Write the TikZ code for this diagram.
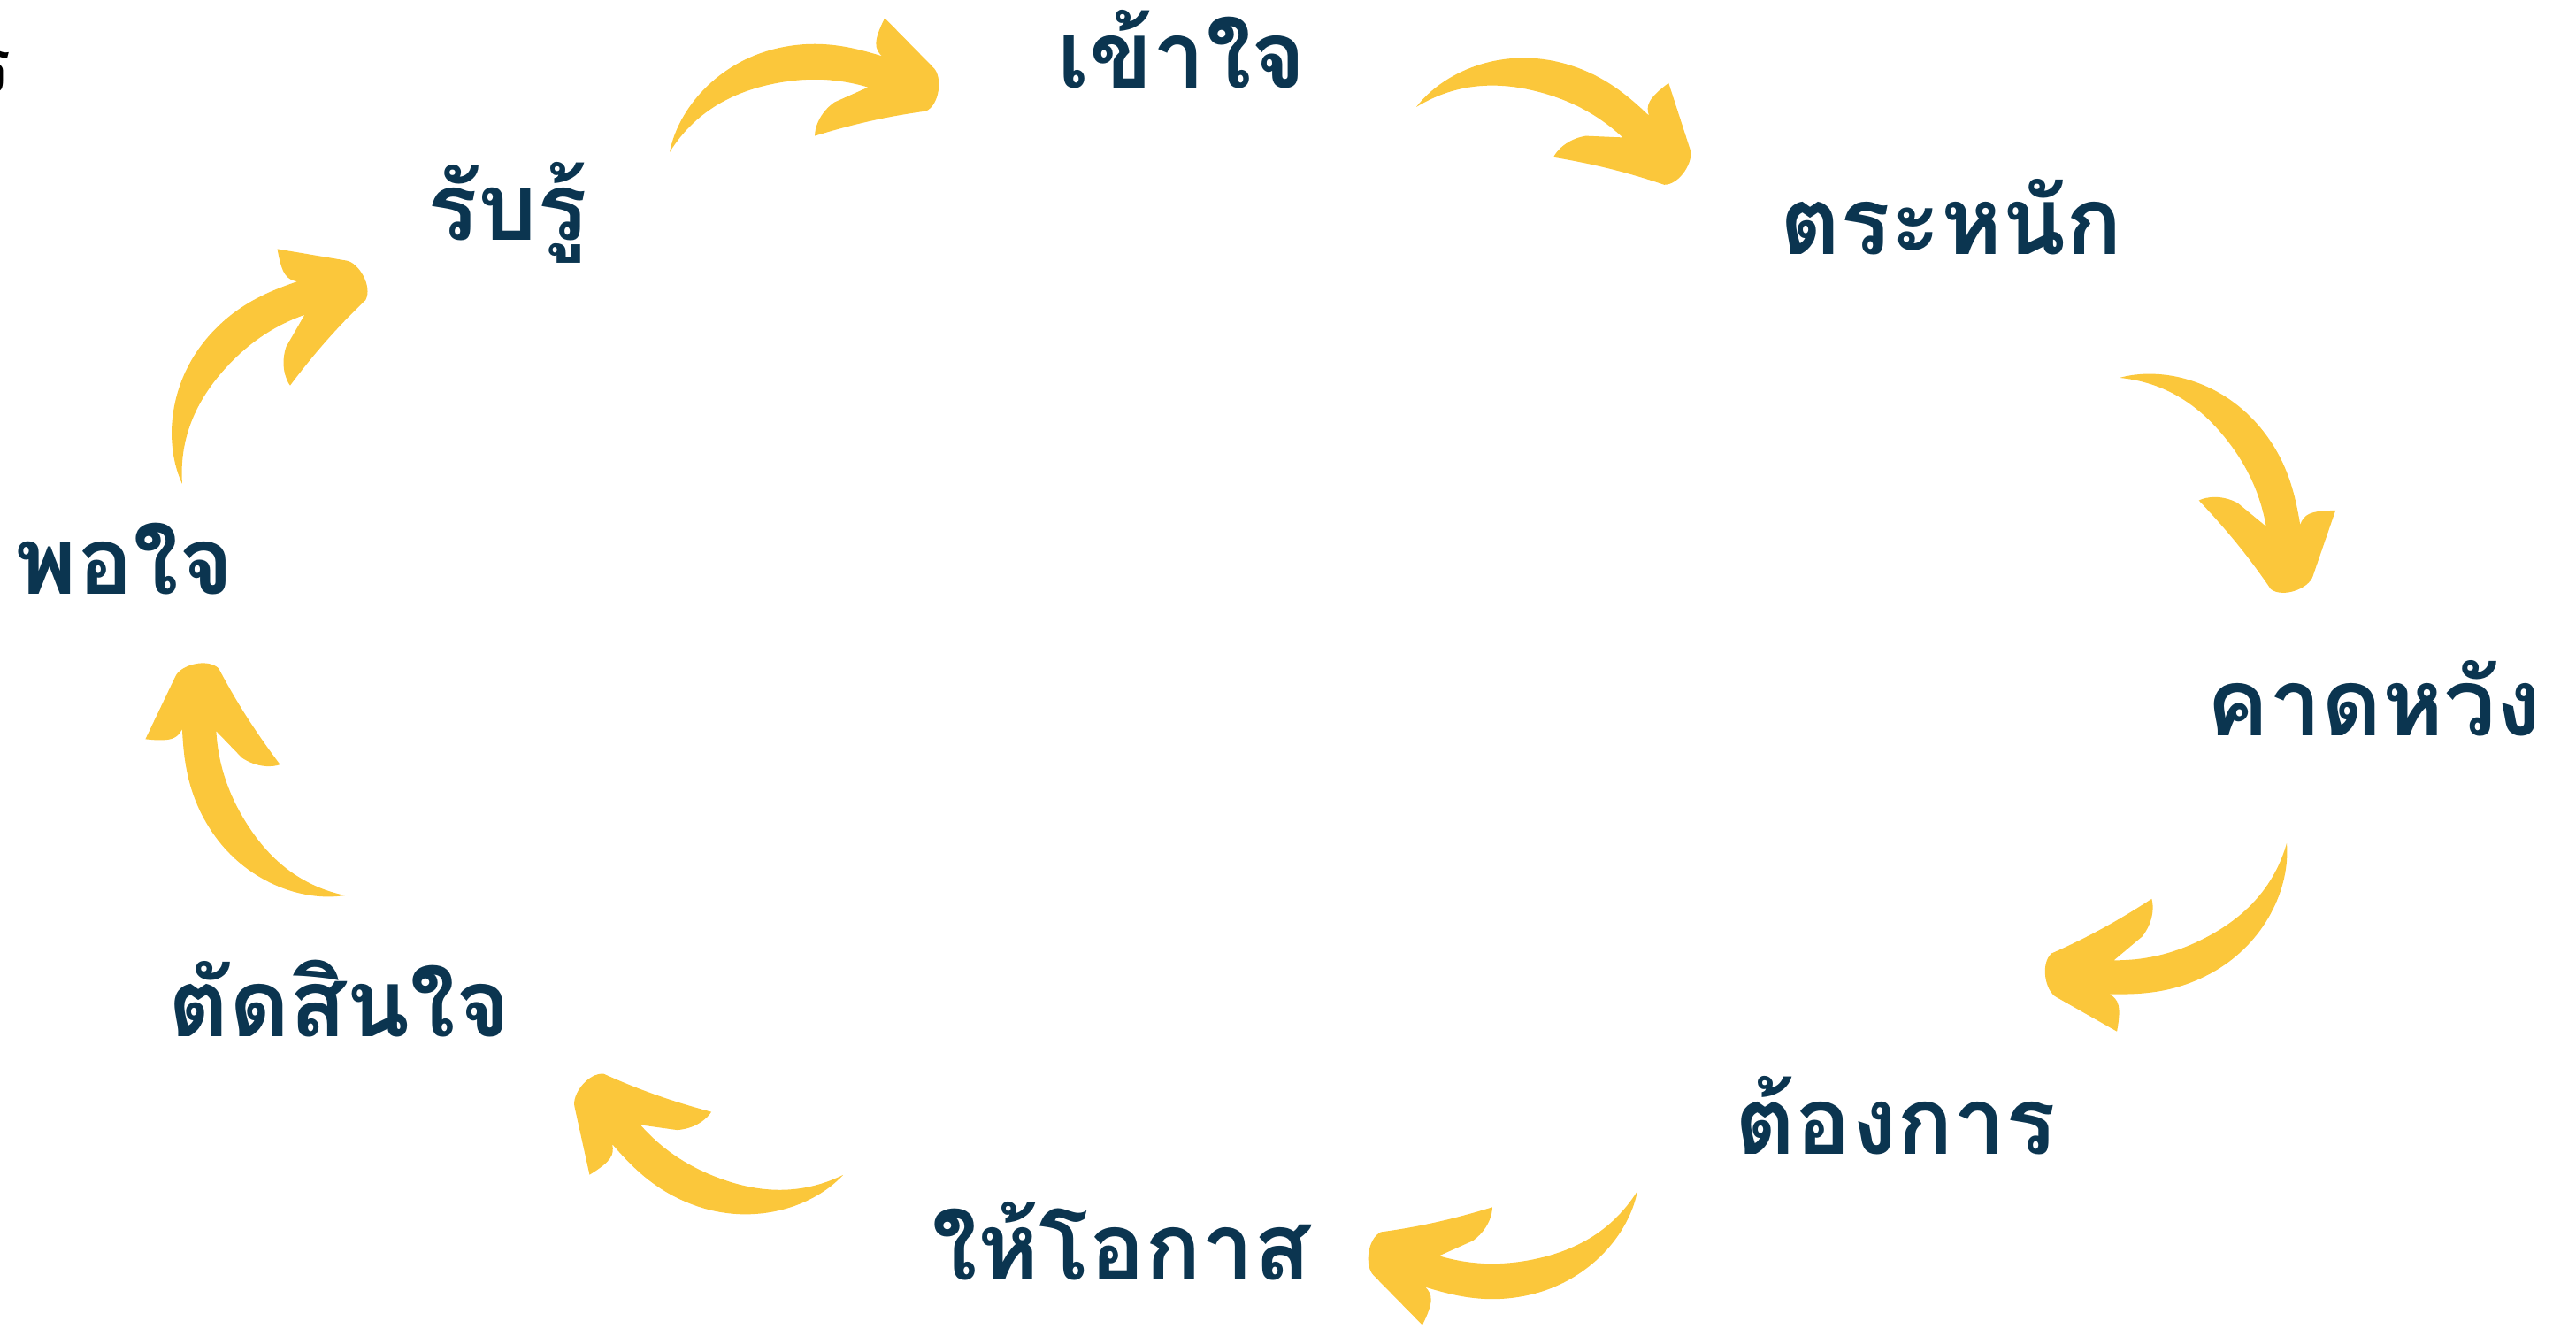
\documentclass[tikz,border=0pt]{standalone}
\usepackage{fontspec}
\newfontfamily\thaifont[Script=Thai]{Loma}
\usepackage{tikz}
\usetikzlibrary{positioning, calc}
\definecolor{testoblu}{HTML}{0B3550}
\definecolor{giallo}{HTML}{FBC73B}

\begin{document}
\begin{tikzpicture}[
        fase/.style={
            text=testoblu,
            font=\thaifont\bfseries\fontsize{30}{36}\selectfont,
            anchor=base,
            inner sep=0pt
        },
        pics/swoosh/.style={code={
            \fill[giallo] (0,0) .. controls (0.2,0.45) and (0.75,0.87) .. (1.45,0.87)
                .. controls (1.95,0.87) and (2.3,0.68) .. (2.58,0.52)
                .. controls (2.52,0.62) and (2.52,0.7) .. (2.71,0.93)
                -- (3.12,0.26) .. controls (3.2,0.14) and (3.1,-0.16) .. (2.93,-0.2)
                .. controls (2.6,-0.17) and (2.2,-0.15) .. (1.64,-0.19)
                .. controls (1.66,-0.1) and (1.75,0.05) .. (1.94,0.13)
                -- (2.35,0.21)
                .. controls (2.05,0.38) and (1.7,0.49) .. (1.25,0.49)
                .. controls (0.7,0.49) and (0.3,0.3) .. (0,0) -- cycle;
        }}
    ]
    \useasboundingbox (0,0) rectangle (29.12,15.02);

    % fasi del ciclo
    \node[fase] (rabru) at (5.74,12.30) {รับรู้};
    \node[fase] (khaochai) at (13.36,14.02) {เข้าใจ};
    \node[fase] (tranak) at (22.06,12.14) {ตระหนัก};
    \node[fase] (khatwang) at (26.84,6.70) {คาดหวัง};
    \node[fase] (tongkan) at (21.43,1.97) {ต้องการ};
    \node[fase] (hai) at (12.68,0.55) {ให้โอกาส};
    \node[fase] (tatsin) at (3.84,3.30) {ตัดสินใจ};
    \node[fase] (phochai) at (1.41,8.30) {พอใจ};
    \node[text=black, font=\thaifont\fontsize{24}{28}\selectfont, anchor=base east, inner sep=0pt] (bordo) at (0.14,13.98) {ร};

    % frecce
    \coordinate (codaA) at (2.06,9.55);
    \coordinate (codaB) at (7.57,13.30);
    \coordinate (codaC) at (16.01,13.81);
    \coordinate (codaD) at (23.96,10.75);
    \coordinate (codaE) at (25.85,5.49);
    \coordinate (codaF) at (18.51,1.56);
    \coordinate (codaG) at (9.53,1.74);
    \coordinate (codaH) at (3.90,4.90);

    \pic[rotate=49] at (codaA) {swoosh};
    \pic[rotate=13] at (codaB) {swoosh};
    \pic[rotate=-13.5] at (codaC) {swoosh};
    \pic[rotate=-50.5] at (codaD) {swoosh};
    \pic[rotate=-151] at (codaE) {swoosh};
    \pic[rotate=193] at (codaF) {swoosh};
    \pic[rotate=161] at (codaG) {swoosh};
    \pic[rotate=123] at (codaH) {swoosh};

\end{tikzpicture}
\end{document}
